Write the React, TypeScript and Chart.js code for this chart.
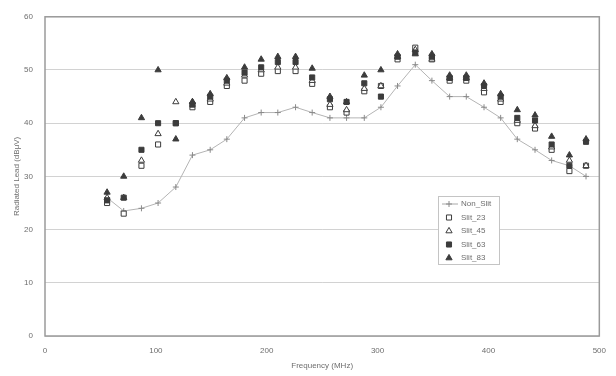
import React, { useEffect, useRef } from "react";
import { Chart, registerables } from "chart.js";
Chart.register(...registerables);

// Frequency (MHz) of every measuring point
const freqs = [56, 71, 87, 102, 118, 133, 149, 164, 180, 195, 210, 226, 241, 257, 272, 288, 303, 318, 334, 349, 365, 380, 396, 411, 426, 442, 457, 473, 488];

// Radiated level (dBμV)
const nonSlit = [26, 23.5, 24, 25, 28, 34, 35, 37, 41, 42, 42, 43, 42, 41, 41, 41, 43, 47, 51, 48, 45, 45, 43, 41, 37, 35, 33, 32, 30];
const slit23 = [25, 23, 32, 36, 40, 43, 44, 47, 48, 49.3, 49.8, 49.8, 47.4, 43, 42, 46, 47, 52, 54.2, 52, 48, 48, 45.8, 44, 40, 39, 35, 31, 32];
const slit45 = [26, 26, 33, 38, 44, 44, 44.5, 47.5, 49, 50, 50.5, 50.5, 48, 43.5, 42.5, 46.5, 47, 52.5, 53.8, 52, 48.5, 48.5, 46.5, 44.5, 40.5, 39.5, 35.5, 33, 32];
const slit63 = [25.5, 26, 35, 40, 40, 43.5, 45, 48, 49.5, 50.5, 51.5, 51.5, 48.6, 44.5, 44, 47.5, 45, 52.5, 53.3, 52.5, 48.5, 48.5, 47, 45, 41, 40.5, 36, 32, 36.5];
const slit83 = [27, 30, 41, 50, 37, 44, 45.5, 48.5, 50.5, 52, 52.5, 52.5, 50.3, 45, 44, 49, 50, 53, 53, 53, 49, 49, 47.5, 45.5, 42.5, 41.5, 37.5, 34, 37];

const seriesNames = ["Non_Slit", "Slit_23", "Slit_45", "Slit_63", "Slit_83"];
const xTitle = "Frequency (MHz)";
const yTitle = "Radiated Lead (dBμV)";

const TEXT = "#6e6e6e";
const MARK = "#3c3c3c";
const FONT = "Liberation Sans, Arial, sans-serif";

export default function App() {
  const ref = useRef<HTMLCanvasElement>(null);

  useEffect(() => {
    document.body.style.margin = "0";
    const canvas = ref.current!;
    const pts = (vals: number[]) => freqs.map((f, i) => ({ x: f, y: vals[i] }));

    const framePlugin = {
      id: "frame",
      afterDatasetsDraw(chart: any) {
        const { ctx, chartArea: a } = chart;
        ctx.save();
        ctx.strokeStyle = "#9a9a9a";
        ctx.lineWidth = 1.5;
        ctx.strokeRect(a.left, a.top, a.right - a.left, a.bottom - a.top);
        ctx.restore();
      },
      afterDraw(chart: any) {
        const { ctx } = chart;
        const bx = 438, by = 196, bw = 61, bh = 68;
        ctx.save();
        ctx.fillStyle = "#ffffff";
        ctx.fillRect(bx, by, bw, bh);
        ctx.strokeStyle = "#c4c4c4";
        ctx.lineWidth = 1;
        ctx.strokeRect(bx + 0.5, by + 0.5, bw, bh);
        ctx.font = "8px " + FONT;
        ctx.textBaseline = "middle";
        const rows = [204, 217.5, 231, 244.5, 258];
        chart.data.datasets.forEach((ds: any, i: number) => {
          const y = rows[i];
          const mx = 449;
          if (i === 0) {
            ctx.strokeStyle = "#a8a8a8";
            ctx.lineWidth = 1;
            ctx.beginPath();
            ctx.moveTo(442, y);
            ctx.lineTo(458, y);
            ctx.stroke();
          }
          ctx.lineWidth = ds.pointBorderWidth;
          ctx.strokeStyle = ds.pointBorderColor;
          ctx.fillStyle = ds.pointBackgroundColor;
          (Chart as any).helpers
            ? null
            : null;
          drawMarker(ctx, ds.pointStyle, ds.pointRadius, mx, y);
          ctx.fillStyle = TEXT;
          ctx.fillText(ds.label, 461, y);
        });
        ctx.restore();
      },
    };

    function drawMarker(ctx: CanvasRenderingContext2D, style: string, r: number, x: number, y: number) {
      ctx.beginPath();
      if (style === "cross") {
        ctx.moveTo(x - r, y);
        ctx.lineTo(x + r, y);
        ctx.moveTo(x, y - r);
        ctx.lineTo(x, y + r);
        ctx.stroke();
      } else if (style === "rect") {
        const s = r * Math.SQRT1_2;
        ctx.rect(x - s, y - s, 2 * s, 2 * s);
        ctx.fill();
        ctx.stroke();
      } else {
        const h = r * 1.5;
        ctx.moveTo(x, y - r);
        ctx.lineTo(x + r * 0.866, y + r * 0.5);
        ctx.lineTo(x - r * 0.866, y + r * 0.5);
        ctx.closePath();
        ctx.fill();
        ctx.stroke();
        void h;
      }
    }

    const chart = new Chart(canvas, {
      type: "scatter",
      data: {
        datasets: [
          {
            label: seriesNames[0],
            data: pts(nonSlit),
            showLine: true,
            borderColor: "#b4b4b4",
            borderWidth: 1,
            pointStyle: "cross",
            pointRadius: 3,
            pointBorderColor: "#8a8a8a",
            pointBackgroundColor: "#8a8a8a",
            pointBorderWidth: 1,
            order: 5,
          },
          {
            label: seriesNames[1],
            data: pts(slit23),
            showLine: false,
            pointStyle: "rect",
            pointRadius: 3.6,
            pointBorderColor: MARK,
            pointBackgroundColor: "#ffffff",
            pointBorderWidth: 1,
            order: 4,
          },
          {
            label: seriesNames[2],
            data: pts(slit45),
            showLine: false,
            pointStyle: "triangle",
            pointRadius: 3.6,
            pointBorderColor: MARK,
            pointBackgroundColor: "#ffffff",
            pointBorderWidth: 1,
            order: 3,
          },
          {
            label: seriesNames[3],
            data: pts(slit63),
            showLine: false,
            pointStyle: "rect",
            pointRadius: 3.6,
            pointBorderColor: MARK,
            pointBackgroundColor: MARK,
            pointBorderWidth: 1,
            order: 2,
          },
          {
            label: seriesNames[4],
            data: pts(slit83),
            showLine: false,
            pointStyle: "triangle",
            pointRadius: 3.6,
            pointBorderColor: MARK,
            pointBackgroundColor: MARK,
            pointBorderWidth: 1,
            order: 1,
          },
        ],
      },
      options: {
        responsive: false,
        animation: false,
        layout: { padding: { top: 12, right: 13, left: 0, bottom: 0 } },
        plugins: { legend: { display: false }, tooltip: { enabled: false } },
        scales: {
          x: {
            type: "linear",
            min: 0,
            max: 500,
            ticks: { stepSize: 100, color: TEXT, font: { size: 8, family: FONT }, padding: 10, maxRotation: 0 },
            grid: { display: false, drawTicks: false },
            border: { display: false },
            title: { display: true, text: xTitle, color: TEXT, font: { size: 8, family: FONT }, padding: { top: 0, bottom: 5 } },
            afterFit: (s: any) => { s.height = 40; },
          },
          y: {
            min: 0,
            max: 60,
            ticks: { stepSize: 10, color: TEXT, font: { size: 8, family: FONT }, padding: 12 },
            grid: { color: "#d2d2d2", lineWidth: 1, drawTicks: false },
            border: { display: false },
            title: { display: true, text: yTitle, color: TEXT, font: { size: 8, family: FONT }, padding: { top: 12, bottom: 0 } },
            afterFit: (s: any) => { s.width = 45; },
          },
        },
      } as any,
      plugins: [framePlugin],
    });
    return () => chart.destroy();
  }, []);

  return <canvas ref={ref} width={616} height={376} style={{ display: "block" }} />;
}
